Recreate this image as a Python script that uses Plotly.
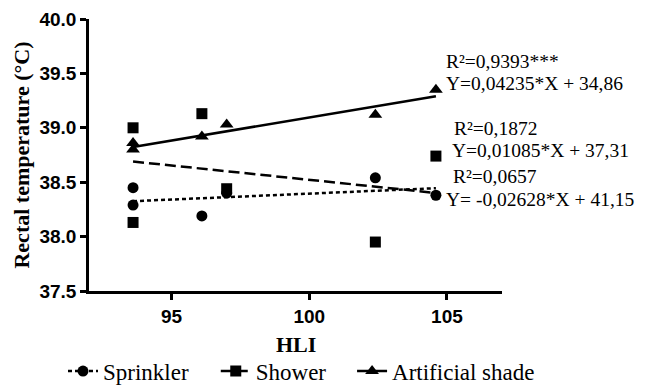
import plotly.graph_objects as go

# ---- data ----
hli = [93.6, 93.6, 96.1, 97.0, 102.4, 104.6]
sprinkler = [38.45, 38.29, 38.19, 38.40, 38.54, 38.38]
shower = [39.00, 38.13, 39.13, 38.44, 37.95, 38.74]
artificial_shade = [38.86, 38.80, 38.92, 39.03, 39.12, 39.35]

# regression coefficients (as printed on the chart)
fit_x = [93.6, 104.6]
sprinkler_fit = (0.01085, 37.31)
shower_fit = (-0.02628, 41.15)
shade_fit = (0.04235, 34.86)

labels = [
    ("R²=0,9393***", 105.07, 39.61),
    ("Y=0,04235*X + 34,86", 105.07, 39.405),
    ("R²=0,1872", 105.37, 38.99),
    ("Y=0,01085*X + 37,31", 105.29, 38.79),
    ("R²=0,0657", 105.33, 38.55),
    ("Y= -0,02628*X + 41,15", 105.07, 38.345),
]

x_ticks = [95, 100, 105]

SERIF = "Liberation Serif"
SANS = "Liberation Sans"

fig = go.Figure()

series = [
    ("Sprinkler", sprinkler, sprinkler_fit, "circle", 11, "4px,3px", "legend", 0.0975),
    ("Shower", shower, shower_fit, "square", 11, "11px,5px", "legend2", 0.334),
    ("Artificial shade", artificial_shade, shade_fit, "triangle-up", 12, "solid", "legend3", 0.545),
]

leg_layout = {}
for name, ys, (m, b), sym, size, dash, leg, lx in series:
    fy = [m * x + b for x in fit_x]
    fig.add_trace(go.Scatter(x=fit_x, y=fy, mode="lines",
                             line=dict(color="black", width=2.5, dash=dash),
                             showlegend=False, hoverinfo="skip"))
    fig.add_trace(go.Scatter(x=hli, y=ys, mode="markers",
                             marker=dict(symbol=sym, size=size, color="black"),
                             showlegend=False, name=name))
    fig.add_trace(go.Scatter(x=[None], y=[None], mode="lines+markers", name=name,
                             legend=leg,
                             line=dict(color="black", width=2.5, dash=dash),
                             marker=dict(symbol=sym, size=size, color="black")))
    leg_layout[leg] = dict(xref="container", yref="container", x=lx, y=0.036,
                           xanchor="left", yanchor="middle",
                           orientation="h", bgcolor="rgba(0,0,0,0)", itemwidth=30,
                           font=dict(family=SERIF, size=23, color="black"))

for txt, x, y in labels:
    fig.add_annotation(x=x, y=y, xref="x", yref="y", text=txt, showarrow=False,
                       xanchor="left", yanchor="middle", xshift=-5,
                       font=dict(family=SERIF, size=19.5, color="black"))

# x-axis title placed as an annotation for exact positioning
fig.add_annotation(x=0.5, y=-0.1985, xref="paper", yref="paper", text="<b>HLI</b>",
                   showarrow=False, xanchor="center", yanchor="middle",
                   font=dict(family=SERIF, size=22, color="black"))

fig.update_layout(
    width=646, height=385,
    margin=dict(l=89, r=144, t=19, b=94, autoexpand=False),
    paper_bgcolor="white", plot_bgcolor="white",
    showlegend=True,
    **leg_layout,
)

fig.update_xaxes(range=[92, 107], tickvals=x_ticks, showgrid=False, zeroline=False,
                 showline=True, linecolor="black", linewidth=2.5,
                 ticks="outside", ticklen=6, tickwidth=2.5, tickcolor="black",
                 tickfont=dict(family=SANS, size=19, color="black", weight="bold"))

fig.update_yaxes(range=[37.5, 40.0], dtick=0.5, tickformat=".1f", showgrid=False,
                 zeroline=False, showline=True, linecolor="black", linewidth=2.5,
                 ticks="outside", ticklen=6, tickwidth=2.5, tickcolor="black",
                 tickfont=dict(family=SANS, size=19, color="black", weight="bold"),
                 title=dict(text="<b>Rectal temperature (°C)</b>", standoff=4,
                            font=dict(family=SERIF, size=22, color="black")))

fig.write_html("out.html")
